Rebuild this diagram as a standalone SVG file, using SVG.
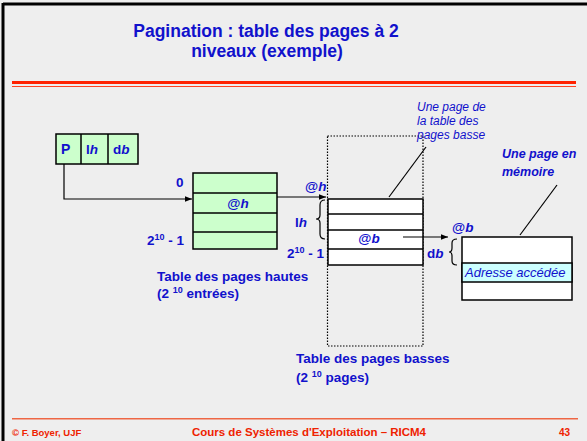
<svg xmlns="http://www.w3.org/2000/svg" width="587" height="441" viewBox="0 0 587 441">
  <defs>
    <marker id="arr" viewBox="0 0 10 10" refX="10" refY="5" markerWidth="7" markerHeight="7" markerUnits="userSpaceOnUse" orient="auto">
      <path d="M0,1 L10,5 L0,9 z" fill="#000"/>
    </marker>
    <style>
      .t { font-family: "Liberation Sans", Arial, sans-serif; font-weight: bold; fill: #1111cc; }
      .title { font-size: 17.5px; }
      .lbl { font-size: 13.5px; }
      .note { font-family: "Liberation Sans", Arial, sans-serif; font-style: italic; font-size: 12px; fill: #1111cc; }
      .foot { font-family: "Liberation Sans", Arial, sans-serif; font-weight: bold; fill: #ee2200; }
      .cell { stroke: #000; stroke-width: 1.5; }
      .green { fill: #ccffcc; }
      .white { fill: #ffffff; }
      .line { stroke: #000; stroke-width: 1.2; fill: none; }
    </style>
  </defs>

  <!-- slide background and frame -->
  <rect x="0" y="0" width="587" height="441" fill="#eeeeee"/>
  <line x1="3" y1="4" x2="587" y2="4" stroke="#000" stroke-width="3"/>
  <line x1="3" y1="3" x2="3" y2="441" stroke="#000" stroke-width="3"/>

  <!-- title -->
  <text class="t title" x="266" y="37" text-anchor="middle">Pagination : table des pages à 2</text>
  <text class="t title" x="267" y="57" text-anchor="middle">niveaux (exemple)</text>
  <rect x="12" y="81" width="564" height="3" fill="#ff2200"/>
  <rect x="12" y="86" width="564" height="1" fill="#ff4422"/>

  <!-- virtual address -->
  <g id="address">
    <rect class="cell green" x="56" y="134" width="82" height="30"/>
    <line class="cell" x1="81" y1="134" x2="81" y2="164"/>
    <line class="cell" x1="108" y1="134" x2="108" y2="164"/>
    <text class="t lbl" x="61" y="154" style="font-size:14px">P</text>
    <text class="t lbl" x="86" y="154">l<tspan font-style="italic">h</tspan></text>
    <text class="t lbl" x="113" y="154">d<tspan font-style="italic">b</tspan></text>
  </g>

  <!-- upper-level page table -->
  <g id="table-hautes">
    <rect class="cell green" x="193" y="173" width="84" height="76"/>
    <line class="cell" x1="193" y1="193" x2="277" y2="193"/>
    <line class="cell" x1="193" y1="213" x2="277" y2="213"/>
    <line class="cell" x1="193" y1="232" x2="277" y2="232"/>
    <text class="t lbl" x="238" y="208" text-anchor="middle">@<tspan font-style="italic">h</tspan></text>
    <text class="t lbl" x="176" y="187">0</text>
    <text class="t lbl" x="147" y="245">2<tspan font-size="9" dy="-5">10</tspan><tspan dy="5"> - 1</tspan></text>
    <text class="t lbl" x="157" y="281">Table des pages hautes</text>
    <text class="t lbl" x="157" y="298">(2 <tspan font-size="9" dy="-5">10</tspan><tspan dy="5"> entrées)</tspan></text>
  </g>

  <!-- lower-level page table -->
  <g id="table-basses">
    <rect x="327.5" y="136" width="95.5" height="210" fill="none" stroke="#000" stroke-width="1.2" stroke-dasharray="1.5,1.5"/>
    <rect class="cell white" x="328" y="199" width="95" height="66"/>
    <line class="cell" x1="328" y1="214" x2="423" y2="214"/>
    <line class="cell" x1="328" y1="230" x2="423" y2="230"/>
    <line class="cell" x1="328" y1="249" x2="423" y2="249"/>
    <text class="t lbl" x="369" y="243" text-anchor="middle">@<tspan font-style="italic">b</tspan></text>
    <text class="t lbl" x="305" y="191">@<tspan font-style="italic">h</tspan></text>
    <text class="t lbl" x="295" y="227">l<tspan font-style="italic">h</tspan></text>
    <path class="line" d="M325,200 Q320,200 320,205 L320,215 Q320,219 316,219 Q320,219 320,223 L320,234 Q320,239 325,239"/>
    <text class="t lbl" x="287" y="258">2<tspan font-size="9" dy="-5">10</tspan><tspan dy="5"> - 1</tspan></text>
    <text class="t lbl" x="296" y="363">Table des pages basses</text>
    <text class="t lbl" x="296" y="382">(2 <tspan font-size="9" dy="-5">10</tspan><tspan dy="5"> pages)</tspan></text>
    <text class="note" x="417" y="111">Une page de</text>
    <text class="note" x="417" y="125">la table des</text>
    <text class="note" x="417" y="139">pages basse</text>
  </g>

  <!-- physical memory page -->
  <g id="page-memoire">
    <rect class="cell white" x="462" y="237" width="110" height="63"/>
    <rect class="cell" x="462" y="263" width="110" height="19" fill="#ccffff"/>
    <text class="note" x="465" y="277" style="font-size:13px">Adresse accédée</text>
    <text class="t lbl" x="452" y="232">@<tspan font-style="italic">b</tspan></text>
    <text class="t lbl" x="427" y="258">d<tspan font-style="italic">b</tspan></text>
    <path class="line" d="M457,239 Q452,239 452,243 L452,248 Q452,252 449,252 Q452,252 452,256 L452,261 Q452,265 457,265"/>
    <text class="t lbl" x="502" y="158" style="font-size:12.5px;font-style:italic">Une page en</text>
    <text class="t lbl" x="502" y="176" style="font-size:12.5px;font-style:italic">mémoire</text>
  </g>

  <!-- connectors -->
  <g id="connectors">
    <path class="line" d="M64,164 L64,199 L192,199" marker-end="url(#arr)"/>
    <line class="line" x1="277" y1="197" x2="326" y2="197" marker-end="url(#arr)"/>
    <line class="line" x1="403" y1="237" x2="448" y2="237" marker-end="url(#arr)"/>
    <line class="line" x1="389" y1="197" x2="426" y2="147"/>
    <line class="line" x1="520" y1="235" x2="557" y2="185"/>
  </g>

  <!-- footer -->
  <rect x="12" y="418" width="566" height="1.5" fill="#ee6644"/>
  <text class="foot" x="12" y="436" font-size="9.5">© F. Boyer, UJF</text>
  <text class="foot" x="309" y="436" font-size="11.5" text-anchor="middle">Cours de Systèmes d'Exploitation – RICM4</text>
  <text class="foot" x="570" y="436" font-size="10" text-anchor="end">43</text>
</svg>
